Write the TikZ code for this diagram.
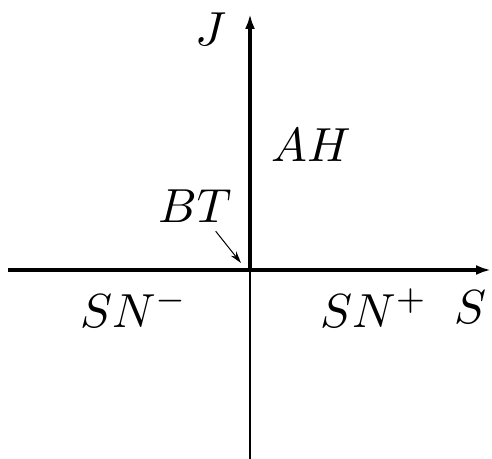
\documentclass[tikz,border=0pt]{standalone}
\usetikzlibrary{arrows.meta, positioning}

\tikzset{
    lbl/.style={inner sep=0pt, anchor=base west},
    axis/.style={line width=3.6bp},
}
\newcommand{\biglbl}[1]{\scalebox{4.8}{$#1$}}

\begin{document}
\begin{tikzpicture}[x=1bp, y=-1bp, >={Latex[length=15bp, width=10bp]}]
            \useasboundingbox (0,0) rectangle (492,459);
            \coordinate (O) at (250,270);
            \coordinate (btTip) at (241,263);

            % 1. Axes
            \draw[axis, ->] (8,270) -- (491,270);
            \draw[axis, ->] (O) -- (250,14);
            \draw[line width=1.6bp] (O) -- (250,459);

            % 2. Labels
            \node[lbl] (J) at (195,46) {\biglbl{J}};
            \node[lbl] (AH) at (271,162) {\biglbl{AH}};
            \node[lbl] (BT) at (158,223) {\biglbl{BT}};
            \node[lbl] (SNm) at (80,327) {\biglbl{SN^{-}}};
            \node[lbl] (SNp) at (320,327) {\biglbl{SN^{+}}};
            \node[lbl] (S) at (454,323) {\biglbl{S}};

            % 3. Pointer to the origin
            \draw[line width=1bp, -{Stealth[length=12bp, width=7bp]}]
                ([xshift=-16bp, yshift=-8bp]BT.south east) -- (btTip);
        \end{tikzpicture}
\end{document}
